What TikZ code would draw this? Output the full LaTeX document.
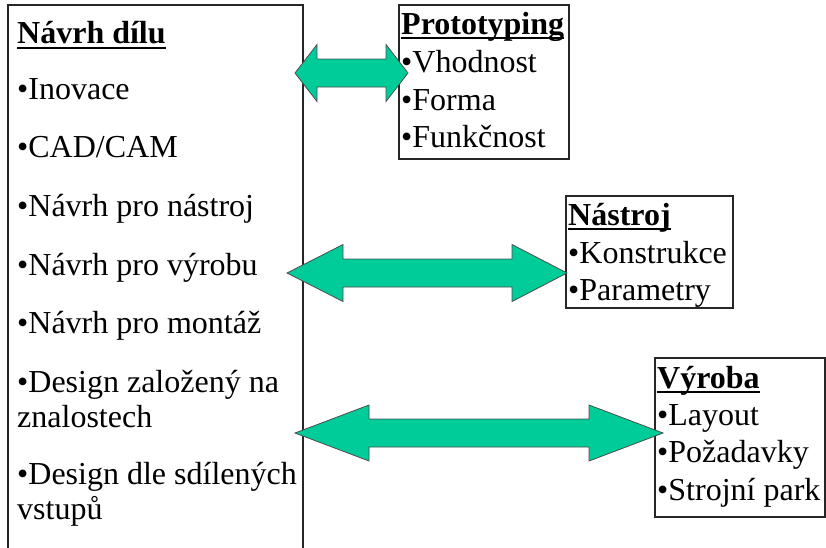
\documentclass[tikz,border=0pt]{standalone}
\usepackage{fontspec}
\setmainfont{Liberation Serif}
\definecolor{arrowgreen}{HTML}{00CC99}
\begin{document}
\begin{tikzpicture}[x=1pt,y=-1pt,
  txt/.style={anchor=base west, inner sep=0pt, font=\fontsize{32}{36}\selectfont},
  ttl/.style={anchor=base west, inner sep=0pt, font=\fontsize{32}{36}\selectfont\bfseries},
  frame/.style={draw=black!85, line width=1.1pt},
  uline/.style={line width=2pt},
  blockarrow/.style={fill=arrowgreen, draw=black!70, line width=0.8pt, line join=miter}]
\useasboundingbox (0,0) rectangle (826,547);
\begin{scope}
\clip (0,0) rectangle (826,547);
\draw[frame] (8,560) -- (8,5) -- (303,5) -- (303,560);
\end{scope}
% left column
\node[ttl] (t0) at (17,43) {Návrh dílu};
\draw[uline] ([yshift=-5pt]t0.base west) -- ([yshift=-5pt]t0.base east);
\node[txt] (a1) at (17,99) {•Inovace};
\node[txt] (a2) at (17,157) {•CAD/CAM};
\node[txt] (a3) at (17,216) {•Návrh pro nástroj};
\node[txt] (a4) at (17,275) {•Návrh pro výrobu};
\node[txt] (a5) at (17,333) {•Návrh pro montáž};
\node[txt] (a6) at (17,392) {•Design založený na};
\node[txt] (a7) at (17,427) {znalostech};
\node[txt] (a8) at (17,484) {•Design dle sdílených};
\node[txt] (a9) at (17,519) {vstupů};
% Prototyping
\draw[frame] (399,5) rectangle (569,159);
\node[ttl] (p0) at (401,34) {Prototyping};
\draw[uline] ([yshift=-4pt]p0.base west) -- ([yshift=-4pt]p0.base east);
\node[txt] (p1) at (401,72) {•Vhodnost};
\node[txt] (p2) at (401,110) {•Forma};
\node[txt] (p3) at (401,147) {•Funkčnost};
% Nastroj
\draw[frame] (566,196) rectangle (733,308);
\node[ttl] (n0) at (568,225) {Nástroj};
\draw[uline] ([yshift=-4pt]n0.base west) -- ([yshift=-4pt]n0.base east);
\node[txt] (n1) at (568,263) {•Konstrukce};
\node[txt] (n2) at (568,300) {•Parametry};
% Vyroba
\draw[frame] (655,358) rectangle (825,517);
\node[ttl] (v0) at (657,388) {Výroba};
\draw[uline] ([yshift=-4pt]v0.base west) -- ([yshift=-4pt]v0.base east);
\node[txt] (v1) at (657,425) {•Layout};
\node[txt] (v2) at (657,462) {•Požadavky};
\node[txt] (v3) at (657,500) {•Strojní park};
% arrows
\draw[blockarrow] (295,73) -- (317,44.5) -- (317,59) -- (386,59) -- (386,44.5) -- (408,73) -- (386,101.5) -- (386,87) -- (317,87) -- (317,101.5) -- cycle;
\draw[blockarrow] (287,273) -- (343,244.5) -- (343,259) -- (512,259) -- (512,244.5) -- (567,273) -- (512,301.5) -- (512,287) -- (343,287) -- (343,301.5) -- cycle;
\draw[blockarrow] (295,433) -- (369,405) -- (369,419) -- (589,419) -- (589,405) -- (663,433) -- (589,461) -- (589,447) -- (369,447) -- (369,461) -- cycle;
\end{tikzpicture}
\end{document}
